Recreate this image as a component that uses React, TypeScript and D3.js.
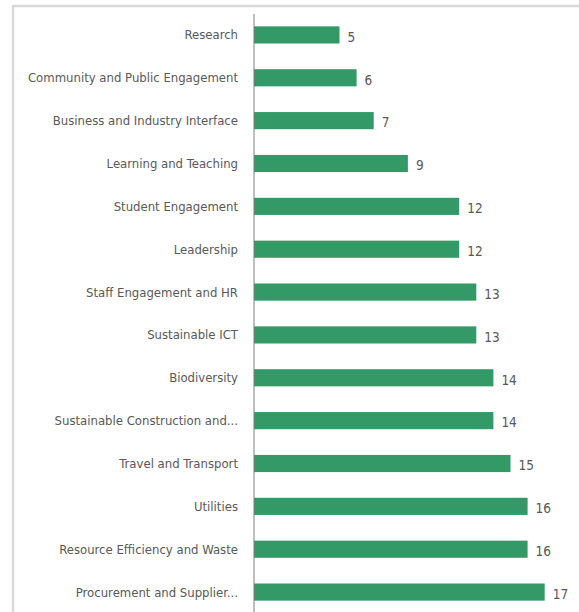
import { useEffect, useRef } from "react";
import * as d3 from "d3";

const categories = [
  "Research",
  "Community and Public Engagement",
  "Business and Industry Interface",
  "Learning and Teaching",
  "Student Engagement",
  "Leadership",
  "Staff Engagement and HR",
  "Sustainable ICT",
  "Biodiversity",
  "Sustainable Construction and...",
  "Travel and Transport",
  "Utilities",
  "Resource Efficiency and Waste",
  "Procurement and Supplier...",
];
const values = [5, 6, 7, 9, 12, 12, 13, 13, 14, 14, 15, 16, 16, 17];

const W = 579;
const H = 612;
const FONT = "'DejaVu Sans Condensed', 'Open Sans', sans-serif";
const BAR = "#339966";
const TEXT = "#595959";

export default function App() {
  const ref = useRef<SVGSVGElement>(null);

  useEffect(() => {
    if (!ref.current) return;
    const svg = d3.select(ref.current);
    svg.selectAll("*").remove();

    const axisX = 254;
    const x = d3.scaleLinear().domain([0, 18]).range([axisX, axisX + 18 * 17.1]);
    const y = d3
      .scaleBand<string>()
      .domain(categories)
      .range([13.5, 613.5])
      .paddingInner(0.6)
      .paddingOuter(0.3);

    // frame
    svg.append("rect")
      .attr("x", 13).attr("y", 6).attr("width", W + 10).attr("height", H + 10)
      .attr("fill", "#fff").attr("stroke", "#d9d9d9").attr("stroke-width", 2.5);

    const data = categories.map((c, i) => ({ c, v: values[i] }));

    svg.selectAll(".bar").data(data).join("rect")
      .attr("x", x(0))
      .attr("y", (d) => y(d.c)!)
      .attr("width", (d) => x(d.v) - x(0))
      .attr("height", y.bandwidth())
      .attr("fill", BAR);

    // axis line
    svg.append("line")
      .attr("x1", axisX).attr("x2", axisX)
      .attr("y1", 14).attr("y2", H)
      .attr("stroke", "#7f7f7f").attr("stroke-width", 1);

    svg.selectAll(".cat").data(data).join("text")
      .attr("x", 238)
      .attr("y", (d) => y(d.c)! + y.bandwidth() / 2)
      .attr("dy", "0.35em")
      .attr("text-anchor", "end")
      .attr("font-family", FONT).attr("font-size", "13px")
      .attr("fill", TEXT)
      .text((d) => d.c);

    svg.selectAll(".val").data(data).join("text")
      .attr("x", (d) => x(d.v) + 8)
      .attr("y", (d) => y(d.c)! + y.bandwidth() / 2 + 2)
      .attr("dy", "0.35em")
      .attr("font-family", FONT).attr("font-size", "13.5px")
      .attr("fill", TEXT)
      .text((d) => d.v);
  }, []);

  return (
    <svg
      ref={ref}
      width={W}
      height={H}
      style={{ position: "absolute", left: 0, top: 0, display: "block" }}
    />
  );
}
